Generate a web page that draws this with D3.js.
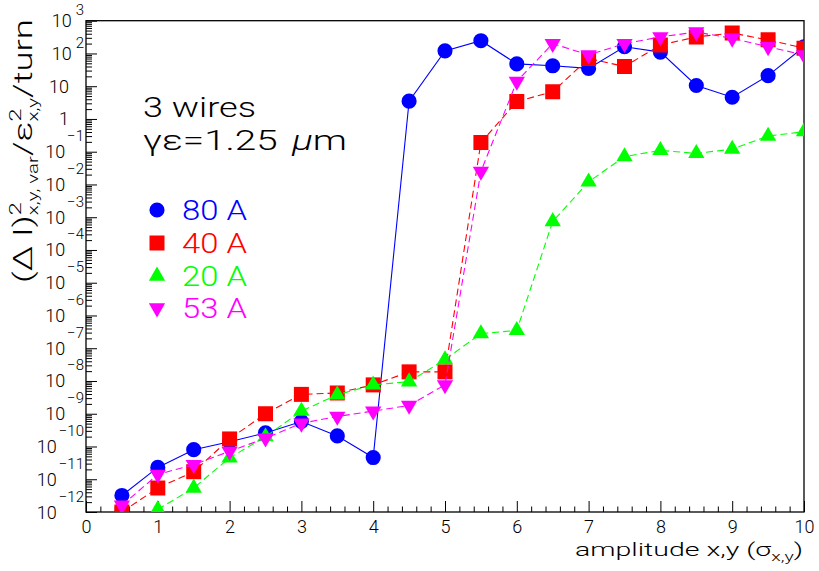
<!DOCTYPE html>
<html>
<head>
<meta charset="utf-8">
<script src="https://cdn.jsdelivr.net/npm/d3@7"></script>
<style>
  body { margin: 0; background: #fff; }
  text { font-family: Roboto, "Liberation Sans", Arial, sans-serif; font-weight: 300; }
</style>
</head>
<body>
<script>
// amplitude (sigma) for every measured point
var amplitudes = [0.5, 1, 1.5, 2, 2.5, 3, 3.5, 4, 4.5, 5,
                  5.5, 6, 6.5, 7, 7.5, 8, 8.5, 9, 9.5, 10];

// (dI)^2 / eps^2 per turn
var dI80 = [3.2e-12, 2.3e-11, 8.0e-11, 1.4e-10, 2.6e-10, 5.8e-10, 2.1e-10, 4.6e-11, 3.5, 120,
            245, 48, 42, 35, 160, 110, 10.5, 4.6, 21, 160];
var dI40 = [1.0e-12, 5.4e-12, 1.7e-11, 1.7e-10, 1.0e-9, 3.9e-9, 4.3e-9, 7.6e-9, 1.9e-8, 1.9e-8,
            0.19, 3.4, 6.8, 70, 40, 180, 320, 420, 260, 145];
var dI20 = [null, 1.2e-12, 5.4e-12, 4.5e-11, 2.0e-10, 1.2e-9, 3.8e-9, 7.6e-9, 9.5e-9, 4.5e-8,
            2.8e-7, 3.5e-7, 7.4e-4, 0.012, 0.071, 0.11, 0.089, 0.12, 0.30, 0.41];
var dI53 = [1.6e-12, 1.4e-11, 2.8e-11, 7.1e-11, 1.8e-10, 5.1e-10, 8.3e-10, 1.2e-9, 1.8e-9, 7.6e-9,
            0.025, 14, 200, 90, 200, 320, 450, 290, 160, 90];

var currents = ["80 A", "40 A", "20 A", "53 A"];
var xTicks = d3.range(0, 11);
var yDecades = d3.range(-12, 4);

var W = 819, H = 571;
var plotL = 86, plotR = 804, plotT = 20.7, plotB = 512;

var series = [
  {name: currents[0], values: dI80, color: "#0000ff", shape: "circle", dash: null},
  {name: currents[1], values: dI40, color: "#ff0000", shape: "square", dash: "7,4"},
  {name: currents[2], values: dI20, color: "#00ff00", shape: "up", dash: "7,4"},
  {name: currents[3], values: dI53, color: "#ff00ff", shape: "down", dash: "7,4"}
];

var svg = d3.select("body").append("svg")
  .attr("width", W)
  .attr("height", H);

var x = d3.scaleLinear().domain([0, 10]).range([plotL, plotR]);
var y = d3.scaleLog().domain([1e-12, 1e3]).range([plotB, plotT]);

// text made of pieces (base, super, sub), optionally stretched to a width
function richText(parent, parts, opt) {
  var g = parent.append("g").attr("fill", opt.color || "#000");
  var inner = g.append("g");
  var cx = 0, prevStart = 0;
  parts.forEach(function(p) {
    var start = p.stack ? prevStart : cx + (p.dx || 0);
    var el = inner.append("text")
      .attr("x", start)
      .attr("y", p.dy || 0)
      .attr("font-size", p.size)
      .text(p.t);
    if (p.italic) el.attr("font-style", "italic");
    var w = el.node().getComputedTextLength();
    if (p.stack) {
      cx = Math.max(cx, start + w);
    } else {
      prevStart = start;
      cx = start + w;
    }
  });
  var sx = opt.width ? opt.width / cx : (opt.sx || 1);
  var off = 0;
  if (opt.anchor === "end") off = -cx * sx;
  if (opt.anchor === "middle") off = -cx * sx / 2;
  g.attr("transform", "translate(" + opt.x + "," + opt.y + ")" +
    (opt.rotate ? " rotate(" + opt.rotate + ")" : ""));
  inner.attr("transform", "translate(" + off + ",0) scale(" + sx + ",1)");
  return g;
}

// axes
var minorX = d3.range(0, 10.01, 0.2).filter(function(v) {
  return Math.abs(v - Math.round(v)) > 1e-6;
});
var minorY = [];
yDecades.forEach(function(k) {
  if (k < 3) {
    for (var m = 2; m <= 9; m++) minorY.push(m * Math.pow(10, k));
  }
});

svg.append("g")
  .attr("transform", "translate(0," + plotB + ")")
  .call(d3.axisBottom(x).tickValues(minorX).tickSize(-5.5).tickSizeOuter(0).tickFormat(""));

var xAxis = svg.append("g")
  .attr("transform", "translate(0," + plotB + ")")
  .call(d3.axisBottom(x).tickValues(xTicks).tickSize(-11).tickSizeOuter(0)
    .tickPadding(8).tickFormat(d3.format("d")));
xAxis.selectAll("text")
  .attr("font-size", 18)
  .attr("font-family", null)
  .attr("fill", "#000");

svg.append("g")
  .attr("transform", "translate(" + plotL + ",0)")
  .call(d3.axisLeft(y).tickValues(minorY).tickSize(-6).tickSizeOuter(0).tickFormat(""));

svg.append("g")
  .attr("transform", "translate(" + plotL + ",0)")
  .call(d3.axisLeft(y).tickValues(yDecades.map(function(k) { return Math.pow(10, k); }))
    .tickSize(-11).tickSizeOuter(0).tickFormat(""));

svg.selectAll(".tick line").attr("stroke", "#000");
svg.selectAll(".domain").attr("stroke", "none");

// y tick labels 10^k
yDecades.forEach(function(k) {
  var ty = y(Math.pow(10, k));
  if (k === 0 || k === 1) {
    svg.append("text")
      .attr("x", 69)
      .attr("y", ty + 6.5)
      .attr("text-anchor", "end")
      .attr("font-size", 18)
      .text(k === 0 ? "1" : "10");
    return;
  }
  var expo = k < 0 ? "\u2212" + (-k) : String(k);
  richText(svg, [
    {t: "10", size: 18},
    {t: expo, size: 15, dy: k < 0 ? -17 : -12, dx: k < 0 ? 2 : 4}
  ], {x: 84, y: ty + 6.5, anchor: "end"});
});

// frame
svg.append("rect")
  .attr("x", plotL)
  .attr("y", plotT)
  .attr("width", plotR - plotL)
  .attr("height", plotB - plotT)
  .attr("fill", "none")
  .attr("stroke", "#000")
  .attr("stroke-width", 1.3);

// data
svg.append("clipPath").attr("id", "plotclip")
  .append("rect")
  .attr("x", plotL)
  .attr("y", plotT)
  .attr("width", plotR - plotL)
  .attr("height", plotB - plotT);

var plot = svg.append("g").attr("clip-path", "url(#plotclip)");

var symbols = {
  circle: d3.symbol().type(d3.symbolCircle).size(180),
  square: d3.symbol().type(d3.symbolSquare).size(225),
  up: d3.symbol().type(d3.symbolTriangle).size(115),
  down: d3.symbol().type(d3.symbolTriangle).size(115)
};

function markerTransform(shape, px, py) {
  return "translate(" + px + "," + py + ")" + (shape === "down" ? " rotate(180)" : "");
}

var line = d3.line()
  .defined(function(d) { return d.v != null; })
  .x(function(d) { return x(d.a); })
  .y(function(d) { return y(d.v); });

series.forEach(function(s) {
  var pts = amplitudes.map(function(a, i) { return {a: a, v: s.values[i]}; });
  var g = plot.append("g");
  g.append("path")
    .datum(pts)
    .attr("d", line)
    .attr("fill", "none")
    .attr("stroke", s.color)
    .attr("stroke-width", 1.1)
    .attr("stroke-dasharray", s.dash);
  g.selectAll("path.mk")
    .data(pts.filter(function(d) { return d.v != null; }))
    .enter().append("path")
    .attr("class", "mk")
    .attr("d", symbols[s.shape])
    .attr("transform", function(d) { return markerTransform(s.shape, x(d.a), y(d.v)); })
    .attr("fill", s.color);
});

// annotation
richText(svg, [{t: "3 wires", size: 27}], {x: 143, y: 117, width: 113});
richText(svg, [
  {t: "\u03b3\u03b5=1.25", size: 27},
  {t: "\u03bc", size: 27, italic: true, dx: 10},
  {t: "m", size: 27}
], {x: 143, y: 150, width: 204});

// legend
var legendY = [210, 243, 276, 308];
series.forEach(function(s, i) {
  svg.append("path")
    .attr("d", symbols[s.shape])
    .attr("transform", markerTransform(s.shape, 157, legendY[i]))
    .attr("fill", s.color);
  richText(svg, [{t: s.name, size: 27}], {x: 182, y: legendY[i] + 10, width: 65, color: s.color});
});

// axis titles
richText(svg, [
  {t: "amplitude x,y (\u03c3", size: 19},
  {t: "x,y", size: 13, dy: 5},
  {t: ")", size: 19}
], {x: 803, y: 556, anchor: "end", width: 228});

richText(svg, [
  {t: "(\u0394 I)", size: 25},
  {t: "2", size: 16, dy: -11},
  {t: "x,y, var", size: 14, dy: 6, stack: true},
  {t: "/", size: 25},
  {t: "\u03b5", size: 25},
  {t: "x,y", size: 14, dy: 6},
  {t: "2", size: 16, dy: -11, stack: true},
  {t: "/turn", size: 25}
], {x: 32, y: 19, rotate: -90, anchor: "end", width: 264});
</script>
</body>
</html>
